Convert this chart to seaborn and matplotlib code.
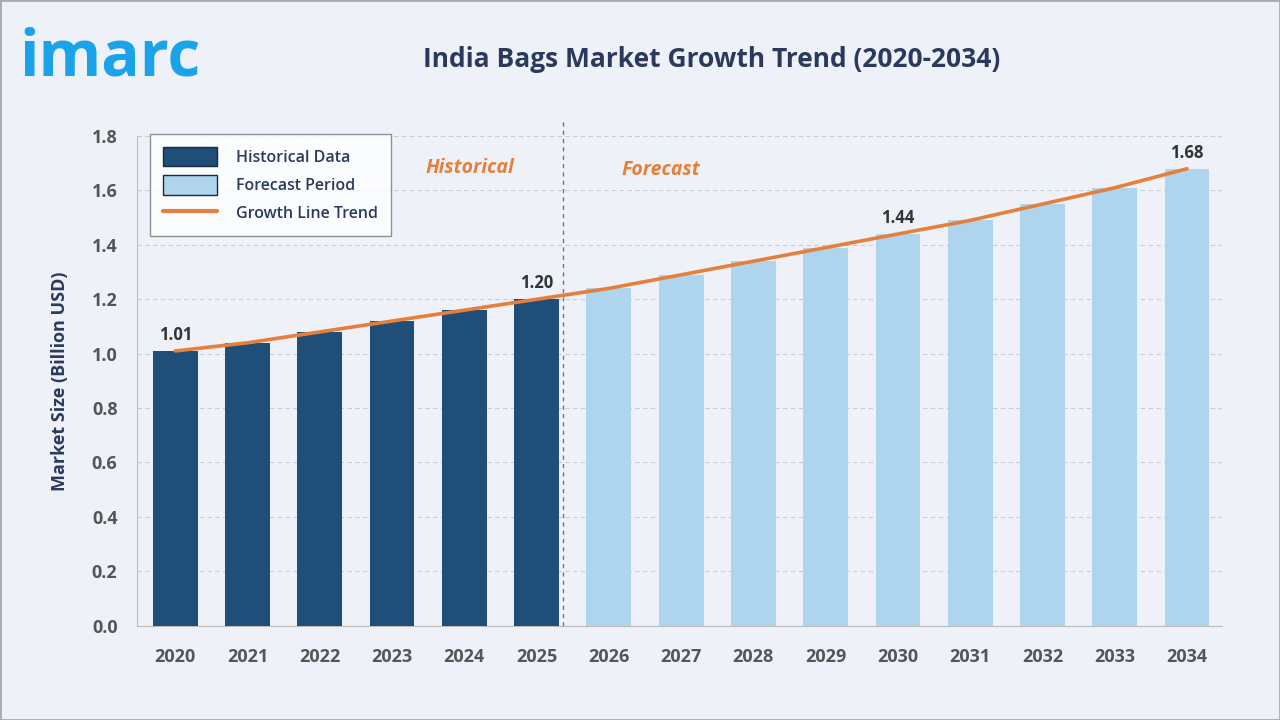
import matplotlib
matplotlib.use("Agg")
import matplotlib.pyplot as plt
from matplotlib.patches import Patch
from matplotlib.lines import Line2D
import seaborn as sns
import pandas as pd

# chart data
years = ["2020", "2021", "2022", "2023", "2024", "2025", "2026", "2027",
         "2028", "2029", "2030", "2031", "2032", "2033", "2034"]
market_size = [1.01, 1.04, 1.08, 1.12, 1.16, 1.20, 1.24, 1.29,
               1.34, 1.39, 1.44, 1.49, 1.55, 1.61, 1.68]
period = ["Historical Data"] * 6 + ["Forecast Period"] * 9
labelled_years = ["2020", "2025", "2030", "2034"]

df = pd.DataFrame({"year": years, "size": market_size, "period": period})

dark_blue = "#1F4E79"
light_blue = "#AED4EE"
orange = "#E5803C"
navy = "#2B3A5C"
bg = "#EEF2F8"

sns.set_style("white")
plt.rcParams["font.family"] = ["Open Sans", "DejaVu Sans"]

fig = plt.figure(figsize=(12.8, 7.2), dpi=100, facecolor=bg)
ax = fig.add_axes([0.107, 0.131, 0.848, 0.680])
ax.set_facecolor(bg)

sns.barplot(data=df, x="year", y="size", hue="period", dodge=False,
            palette={"Historical Data": dark_blue, "Forecast Period": light_blue},
            width=0.62, saturation=1, legend=False, ax=ax, zorder=3,
            linewidth=0, edgecolor="none")

# growth trend line
sns.lineplot(x=list(range(len(years))), y=market_size, color=orange,
             linewidth=2.6, ax=ax, zorder=4)

# value labels
for i, (yr, v) in enumerate(zip(years, market_size)):
    if yr in labelled_years:
        ax.text(i, v + 0.025, f"{v:.2f}", ha="center", va="bottom",
                fontsize=12, fontweight="bold", color="#333333", zorder=5)

ax.set_xlim(-0.53, 14.49)
ax.set_ylim(0, 1.8)
ax.set_yticks([0.0, 0.2, 0.4, 0.6, 0.8, 1.0, 1.2, 1.4, 1.6, 1.8])
ax.set_yticklabels([f"{t:.1f}" for t in ax.get_yticks()])
ax.grid(axis="y", linestyle=(0, (4, 3)), color="#C8CDD4", linewidth=0.8, zorder=0)
ax.set_axisbelow(True)

for s in ["top", "right"]:
    ax.spines[s].set_visible(False)
ax.spines["left"].set_color("#BBBBBB")
ax.spines["bottom"].set_color("#BBBBBB")

ax.tick_params(axis="both", length=0, labelsize=13, labelcolor="#555555")
ax.tick_params(axis="x", pad=16)
ax.tick_params(axis="y", pad=14)
for lbl in ax.get_xticklabels() + ax.get_yticklabels():
    lbl.set_fontweight("bold")

ax.set_xlabel("")
ax.set_ylabel("Market Size (Billion USD)", fontsize=13, fontweight="bold",
              color=navy, labelpad=16)

# divider between historical and forecast
ax.plot([5.36, 5.36], [0, 1.86], color="#777777", linestyle=(0, (3, 3)),
        linewidth=1.0, clip_on=False, zorder=2)
ax.text(4.07, 1.684, "Historical", ha="center", va="center", fontsize=14,
        fontweight="bold", style="italic", color=orange)
ax.text(6.72, 1.676, "Forecast", ha="center", va="center", fontsize=14,
        fontweight="bold", style="italic", color=orange)

# legend
handles = [Patch(facecolor=dark_blue, edgecolor="#1A2A40", label="Historical Data"),
           Patch(facecolor=light_blue, edgecolor="#1A2A40", label="Forecast Period"),
           Line2D([0], [0], color=orange, linewidth=3, label="Growth Line Trend")]
leg = ax.legend(handles=handles, loc="upper left", bbox_to_anchor=(0.012, 1.004),
                frameon=True, fancybox=False, fontsize=11.5, handlelength=3.4,
                handleheight=1.5, handletextpad=1.2, labelspacing=0.55,
                borderpad=0.8, borderaxespad=0)
leg.get_frame().set_edgecolor("#777777")
leg.get_frame().set_facecolor("white")
leg.get_frame().set_linewidth(1.0)
for t in leg.get_texts():
    t.set_color(navy)
    t.set_fontweight("semibold")

# title and logo
fig.text(0.556, 0.918, "India Bags Market Growth Trend (2020-2034)",
         ha="center", va="center", fontsize=19, fontweight="bold", color=navy)
fig.text(0.015, 0.918, "imarc", ha="left", va="center", fontsize=46,
         fontweight="bold", color="#1AA3E8")

# outer border
fig.patches.append(plt.Rectangle((0, 0), 1, 1, transform=fig.transFigure,
                                 fill=False, edgecolor="#AAAAAA", linewidth=2))

fig.savefig("out.png", dpi=100, facecolor=bg)
